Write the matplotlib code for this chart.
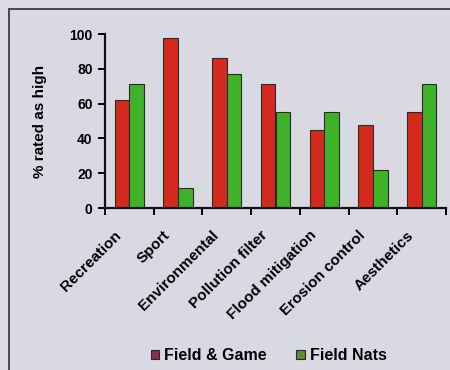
import matplotlib
matplotlib.use("Agg")
import matplotlib.pyplot as plt
from matplotlib.patches import Rectangle
from matplotlib.transforms import ScaledTranslation
import numpy as np

categories = ["Recreation", "Sport", "Environmental", "Pollution filter",
              "Flood mitigation", "Erosion control", "Aesthetics"]
field_game = [62, 97.5, 86, 71.5, 45, 47.5, 55]
field_nats = [71.5, 11.5, 77, 55, 55, 22, 71.5]
series_names = ["Field & Game", "Field Nats"]
yticks = [0, 20, 40, 60, 80, 100]

plt.rcParams['font.family'] = ['Liberation Sans', 'DejaVu Sans']
plt.rcParams['font.weight'] = 'bold'

W, H = 450, 370
fig = plt.figure(figsize=(W/100, H/100), dpi=100)
bg = '#dcdce6'
fig.patch.set_facecolor(bg)

# outer frame
rect = Rectangle((9/W, -0.1), 1.2, 1 - 9/H + 0.1, transform=fig.transFigure,
                 facecolor='#d9d9e4', edgecolor='#3a3a44', linewidth=1.3, zorder=-5)
fig.add_artist(rect)

ax = fig.add_axes([105/W, 1 - 208/H, (446 - 105)/W, (208 - 34)/H])
ax.set_zorder(2)
ax.set_facecolor('none')

x = np.arange(len(categories))
w = 0.3
red = '#d42a1e'
green = '#3fb22a'
ax.bar(x - w/2, field_game, w, color=red, edgecolor='#2a2a2a', linewidth=0.8, label=series_names[0])
ax.bar(x + w/2, field_nats, w, color=green, edgecolor='#2a2a2a', linewidth=0.8, label=series_names[1])

ax.set_xlim(-0.5, len(categories) - 0.5)
ax.set_ylim(0, 100)
for s in ['top', 'right']:
    ax.spines[s].set_visible(False)
for s in ['left', 'bottom']:
    ax.spines[s].set_linewidth(1.6)
    ax.spines[s].set_color('#111111')

ax.set_yticks(yticks)
ax.set_yticklabels([str(v) for v in yticks], fontsize=10, fontweight='bold')
ax.tick_params(axis='y', direction='out', length=5, width=1.4, pad=4)

ax.set_xticks(np.arange(-0.5, len(categories), 1.0))
ax.set_xticklabels([])
ax.tick_params(axis='x', which='major', direction='out', length=5, width=1.4)
ax.set_xticks(x, minor=True)
labels = ax.set_xticklabels(categories, minor=True, rotation=45, ha='right', rotation_mode='anchor',
                            fontsize=11, fontweight='bold')
ax.tick_params(axis='x', which='minor', length=0, pad=8)
off = ScaledTranslation(-15/100, -9/100, fig.dpi_scale_trans)
for lab in labels:
    lab.set_transform(lab.get_transform() + off)

ax.set_ylabel("% rated as high", fontsize=11, fontweight='bold', labelpad=16)

leg = fig.legend(loc='lower center', bbox_to_anchor=(0.597, -0.02), ncol=2, frameon=False,
                 prop={'weight': 'bold', 'size': 11.5}, handlelength=0.55, handleheight=0.55,
                 handletextpad=0.3, columnspacing=1.85)
leg.legend_handles[0].set_facecolor('#8a2e4a')
leg.legend_handles[1].set_facecolor('#5f8a3a')

fig.savefig("out.png", dpi=100, facecolor=bg)
